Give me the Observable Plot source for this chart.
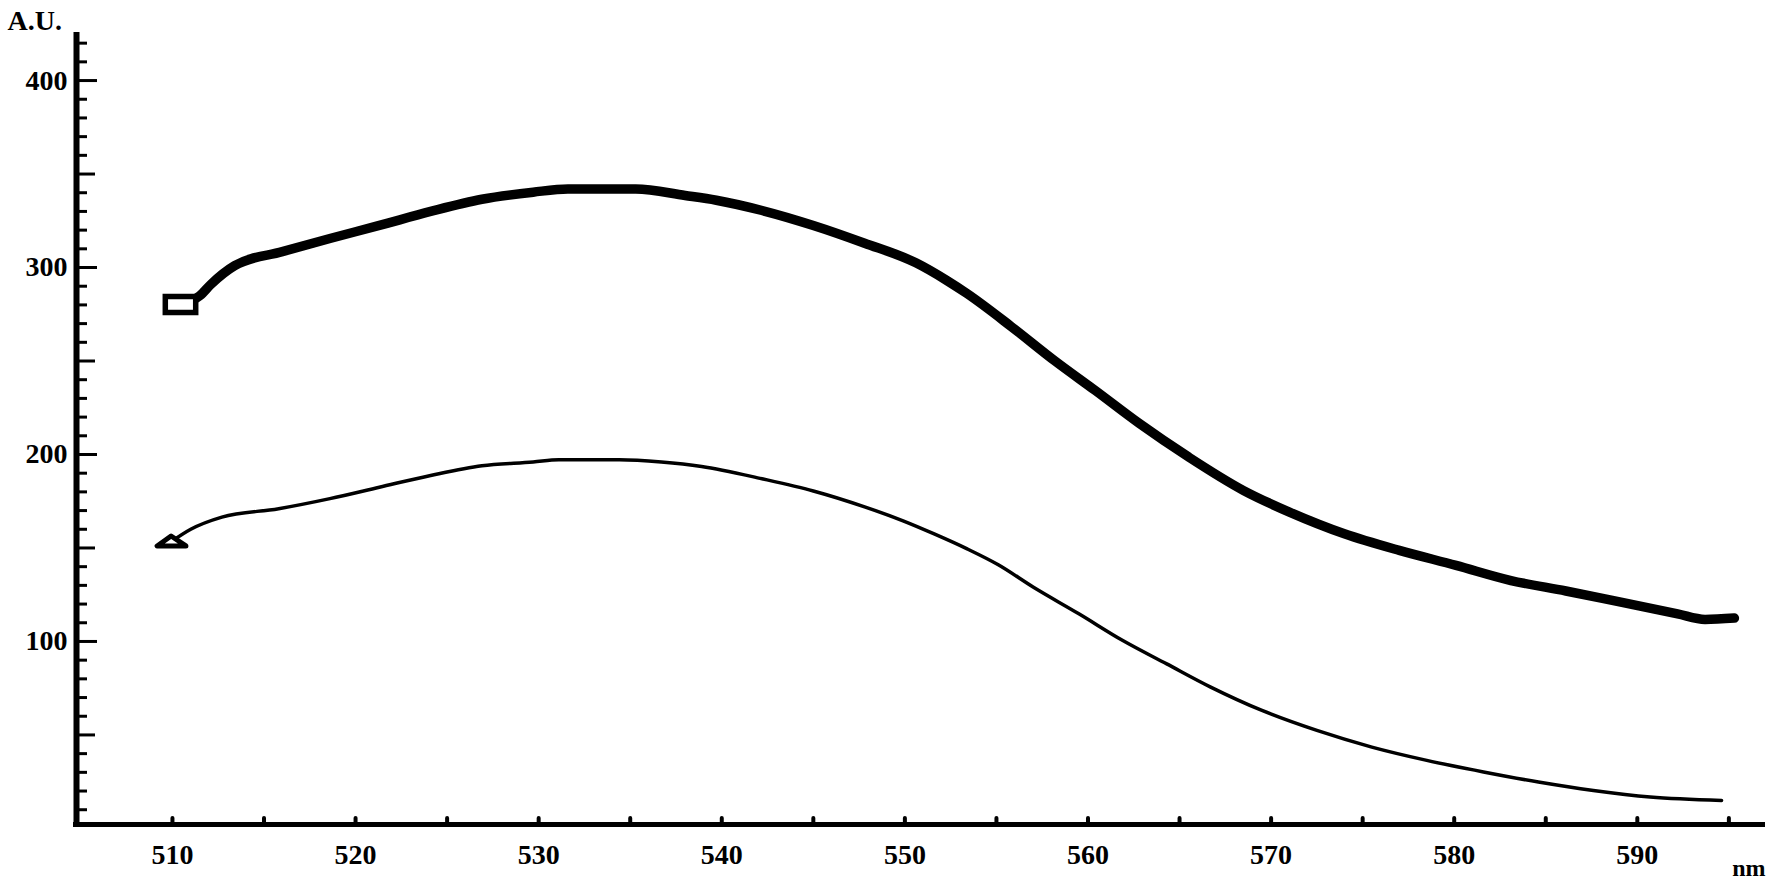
<!DOCTYPE html>
<html>
<head>
<meta charset="utf-8">
<script src="https://cdn.jsdelivr.net/npm/d3@7"></script>
<script src="https://cdn.jsdelivr.net/npm/@observablehq/plot@0.6"></script>
<style>
  html, body { margin: 0; padding: 0; background: #fff; overflow: hidden; }
</style>
</head>
<body>
<div id="chart"></div>
<script>
// ---- data ----
const upperNm = [510.44, 511.5, 512.1, 513.4, 516, 518.6, 521.3, 524.1, 526.9, 529.7, 531.6, 535.3, 538, 539.7, 542.2, 545, 547.8, 550.6, 552.3, 553.4, 555.8, 558.2, 560.4, 562.8, 565.5, 568.5, 571, 574, 577, 580.1, 583.1, 586.1, 589.1, 592.2, 593.7, 595.3];
const upperAU = [280.2, 285, 291, 301, 308.5, 315.5, 322.5, 330, 336.5, 340.3, 342, 342, 338.5, 336, 330.5, 322.5, 313, 302.5, 293, 286, 268.5, 250, 234.2, 216.6, 198.6, 180.7, 169.2, 157.6, 148.7, 140.7, 132.6, 127, 121, 114.8, 111.8, 112.5];

const lowerNm = [509.95, 511, 512.7, 515.8, 518.6, 521.3, 524.1, 526.9, 529.7, 531.1, 534.4, 536.7, 538.9, 542.2, 545, 547.8, 549.9, 551.6, 553.4, 555.1, 557, 559.5, 561.9, 564.3, 566.7, 569.5, 572.5, 575.5, 578.5, 581.6, 584.6, 587.6, 590.7, 594.6];
const lowerAU = [153.5, 160, 166.5, 171, 176.4, 182.5, 188.8, 194, 196, 197.2, 197.2, 196, 193.6, 187, 180.5, 172, 164.5, 157.5, 149.5, 141, 129.1, 114.8, 100.5, 88, 75.6, 63.1, 52.4, 43.5, 36.4, 30.2, 24.8, 20.3, 16.8, 15];

const xTickLabels = [510, 520, 530, 540, 550, 560, 570, 580, 590];
const xDotTicks = [510, 515, 520, 525, 530, 535, 540, 545, 550, 555, 560, 565, 570, 575, 580, 585, 590, 595];
const yTickLabels = [100, 200, 300, 400];
const yMidTicks = [50, 150, 250, 350];
const yMinorTicks = [10, 20, 30, 40, 60, 70, 80, 90, 110, 120, 130, 140, 160, 170, 180, 190, 210, 220, 230, 240, 260, 270, 280, 290, 310, 320, 330, 340, 360, 370, 380, 390, 410, 420];
const yAxisTitle = "A.U.";
const xAxisTitle = "nm";

// ---- layout ----
const W = 1770, H = 878;
const mL = 76, mR = 5, mT = 32, mB = 54;
const innerW = W - mL - mR, innerH = H - mT - mB;
const xDomain = [504.76, 597.0];
const yDomain = [2.1, 425.7];

const upper = upperNm.map((x, i) => ({nm: x, au: upperAU[i]}));
const lower = lowerNm.map((x, i) => ({nm: x, au: lowerAU[i]}));

// marker shapes
const wideRect = {
  draw(ctx, size) {
    const r = Math.sqrt(size / Math.PI);
    ctx.moveTo(-1.9 * r, -r);
    ctx.lineTo(1.9 * r, -r);
    ctx.lineTo(1.9 * r, r);
    ctx.lineTo(-1.9 * r, r);
    ctx.closePath();
  }
};
const flatTriangle = {
  draw(ctx, size) {
    const r = Math.sqrt(size / Math.PI);
    ctx.moveTo(-1.6 * r, 0.5 * r);
    ctx.lineTo(1.6 * r, 0.5 * r);
    ctx.lineTo(-0.05 * r, -0.6 * r);
    ctx.closePath();
  }
};

const font = "'Liberation Serif', 'Times New Roman', serif";

const chart = Plot.plot({
  width: W,
  height: H,
  marginLeft: mL,
  marginRight: mR,
  marginTop: mT,
  marginBottom: mB,
  x: {domain: xDomain, label: null},
  y: {domain: yDomain, label: null},
  style: {fontFamily: font, fontSize: "27px", fontWeight: "bold", background: "#fff", color: "#000", overflow: "visible"},
  marks: [
    // ticks on the y axis (pointing inward)
    Plot.tickY(yMinorTicks, {y: d => d, insetRight: innerW - 11, stroke: "#000", strokeWidth: 3}),
    Plot.tickY(yMidTicks, {y: d => d, insetRight: innerW - 19, stroke: "#000", strokeWidth: 3}),
    Plot.tickY(yTickLabels, {y: d => d, insetRight: innerW - 21, stroke: "#000", strokeWidth: 3}),
    // ticks on the x axis (small bumps)
    Plot.tickX(xDotTicks, {x: d => d, insetTop: innerH - 6, stroke: "#000", strokeWidth: 4, strokeLinecap: "round"}),
    // axis lines
    Plot.ruleX([xDomain[0]], {stroke: "#000", strokeWidth: 6, insetBottom: -3}),
    Plot.ruleY([yDomain[0]], {stroke: "#000", strokeWidth: 5, insetLeft: -3}),
    // tick labels
    Plot.axisY(yTickLabels, {anchor: "left", tickSize: 0, tickPadding: 9, label: null, fontSize: 28, fontWeight: "bold"}),
    Plot.axisX(xTickLabels, {anchor: "bottom", tickSize: 0, tickPadding: 20, label: null, fontSize: 28, fontWeight: "bold"}),
    // curves
    Plot.line(upper, {x: "nm", y: "au", stroke: "#000", strokeWidth: 9.5, curve: "monotone-x", strokeLinejoin: "round", strokeLinecap: "round"}),
    Plot.line(lower, {x: "nm", y: "au", stroke: "#000", strokeWidth: 3.5, curve: "monotone-x", strokeLinejoin: "round", strokeLinecap: "round"}),
    // markers
    Plot.dot([upper[0]], {x: "nm", y: "au", symbol: wideRect, r: 8, stroke: "#000", fill: "#fff", strokeWidth: 5.5}),
    Plot.dot([lower[0]], {x: "nm", y: "au", symbol: flatTriangle, r: 9, stroke: "#000", fill: "#fff", strokeWidth: 5, strokeLinejoin: "round"}),
    // axis titles
    Plot.text([yAxisTitle], {frameAnchor: "top-left", dx: -69, dy: -11, textAnchor: "start", lineAnchor: "middle", fontSize: 28, fontWeight: "bold"}),
    Plot.text([xAxisTitle], {frameAnchor: "bottom-right", dx: 0, dy: 44, textAnchor: "end", lineAnchor: "middle", fontSize: 24, fontWeight: "bold"})
  ]
});

document.getElementById("chart").appendChild(chart);
</script>
</body>
</html>
